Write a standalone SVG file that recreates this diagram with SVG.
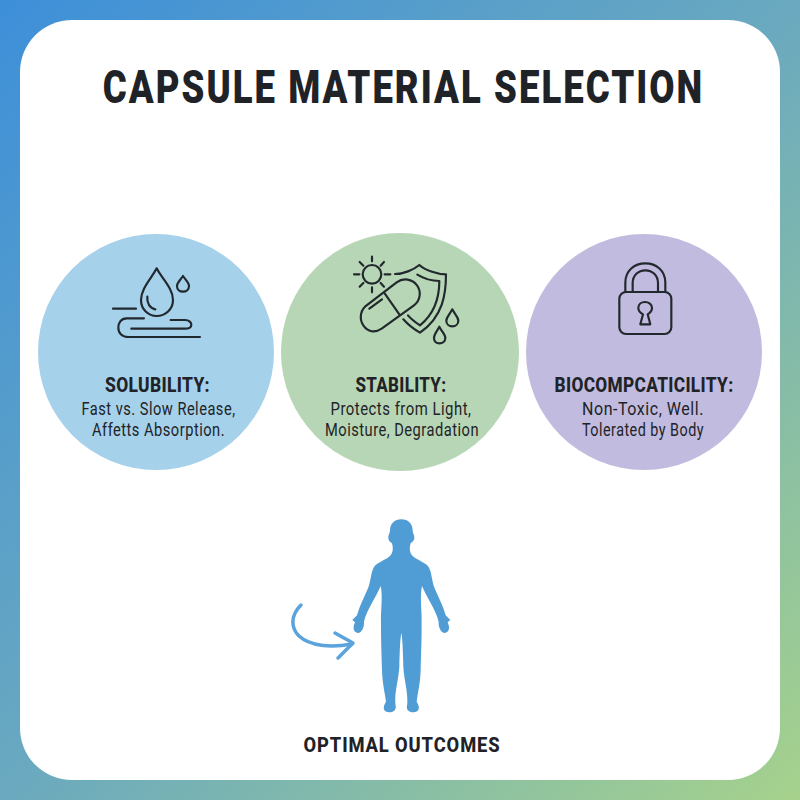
<svg xmlns="http://www.w3.org/2000/svg" width="800" height="800" viewBox="0 0 800 800">
<style>
text{font-family:Roboto,"Liberation Sans",sans-serif;text-anchor:middle;fill:#1f2327}
.h{font-weight:800;font-size:21px;letter-spacing:.4px}
.s{font-weight:400;font-size:18px;letter-spacing:.6px}
.i{fill:none;stroke:#22292e;stroke-width:6.5;stroke-linecap:round;stroke-linejoin:round}
</style>
<defs><linearGradient id="bg" x1="0" y1="0" x2="1" y2="1"><stop offset="0" stop-color="#3d8fd9"/><stop offset=".5" stop-color="#6aa9bf"/><stop offset="1" stop-color="#a6d28c"/></linearGradient></defs>
<rect width="800" height="800" fill="url(#bg)"/>
<rect x="20" y="20" width="760" height="760" rx="52" fill="#fff"/>
<text id="title" transform="translate(403.5 102.5) scale(.778 1)" font-size="47" font-weight="900" letter-spacing="2.6">CAPSULE MATERIAL SELECTION</text>
<g id="solubility">
<circle cx="156" cy="352" r="118" fill="#a5d1ea"/>
<g class="i" transform="translate(90 250) scale(.3333)">
<path d="M200 55C185 85 153 115 153 150C153 178 175 198 200 198C226 198 249 178 249 150C249 115 215 85 200 55Z"/>
<path d="M172 140C170 160 180 175 196 178"/>
<path d="M279 78C270 92 261 98 261 108C261 118 269 125 279 125C289 125 297 118 297 108C297 98 287 90 279 78Z"/>
<path d="M69 176H138"/>
<path d="M162 205H110C92 205 85 220 85 233C85 250 97 261 115 261H330"/>
<path d="M242 210H285C298 210 304 218 304 224C304 232 296 236 285 236H124"/>
</g>
<text class="h" x="157.5" y="392" textLength="105" lengthAdjust="spacingAndGlyphs">SOLUBILITY:</text>
<text class="s" x="158.5" y="415" textLength="154" lengthAdjust="spacingAndGlyphs">Fast vs. Slow Release,</text>
<text class="s" x="158.5" y="436" textLength="133" lengthAdjust="spacingAndGlyphs">Affetts Absorption.</text>
</g>
<g id="stability">
<circle cx="400" cy="352" r="119" fill="#b7d6b5"/>
<g class="i" transform="translate(340 250) scale(.3333)">
<circle cx="96" cy="73" r="28"/>
<path d="M96 20V34M96 112V127M42 73H58M134 73H151M59 36L70 47M132 36L122 47M59 110L70 99M132 110L122 99"/>
<path d="M165 72C190 72 220 60 238 45C255 60 290 73 318 73C318 130 310 200 240 248C222 238 205 225 190 208"/>
<path d="M232 74C250 85 275 93 298 93C298 140 285 190 240 226C225 216 213 207 204 196"/>
<path d="M75 170L170 97C190 82 217 87 231 106C245 125 241 152 222 166L125 236C104 250 83 245 71 228C58 210 60 185 75 170Z"/>
<path d="M134 130L178 193"/>
<path d="M88 176L126 148"/>
<path d="M337 178C328 195 319 202 319 212C319 222 327 229 337 229C347 229 355 222 355 212C355 202 345 194 337 178Z"/>
<path d="M298 230C289 247 282 254 282 264C282 274 289 280 298 280C308 280 316 274 316 264C316 254 306 246 298 230Z"/>
</g>
<text class="h" x="401" y="392" textLength="91" lengthAdjust="spacingAndGlyphs">STABILITY:</text>
<text class="s" x="401" y="415" textLength="141" lengthAdjust="spacingAndGlyphs">Protects from Light,</text>
<text class="s" x="402" y="436" textLength="154" lengthAdjust="spacingAndGlyphs">Moisture, Degradation</text>
</g>
<g id="biocompatibility">
<circle cx="644" cy="352" r="118" fill="#c0bbdf"/>
<g class="i" transform="translate(600 250) scale(.3333)">
<rect x="58" y="126" width="156" height="126" rx="20"/>
<path d="M76 126V98C76 62 103 40 136 40C169 40 196 62 196 98V126"/>
<path d="M98 126V100C98 76 115 61 136 61C157 61 174 76 174 100V126"/>
<path d="M121 223L129 193C120 188 115 180 115 174C115 163 124 156 135 156C146 156 156 163 156 174C156 181 151 188 143 193L151 223Z"/>
</g>
<text class="h" x="644" y="392" textLength="179" lengthAdjust="spacingAndGlyphs">BIOCOMPCATICILITY:</text>
<text class="s" x="643" y="415" textLength="122" lengthAdjust="spacingAndGlyphs">Non-Toxic, Well.</text>
<text class="s" x="643" y="436" textLength="122" lengthAdjust="spacingAndGlyphs">Tolerated by Body</text>
</g>
<g id="outcomes">
<g transform="translate(280 510) scale(.3333)">
<path fill="#509dd6" d="M364 28C385 28 398 42 398 62C398 70 404 74 403 84C402 94 396 96 392 100C387 118 390 130 398 138C412 150 432 156 444 168C456 185 454 210 464 235C477 265 490 290 497 316L511 330L503 337C509 350 510 366 495 369C482 369 475 350 476 335C468 300 440 262 426 228C419 260 426 300 425 340C425 400 423 440 422 480C421 520 413 550 410 575C420 590 420 606 400 607C385 607 377 598 382 582C384 540 372 510 370 470C369 430 368 390 364 368C360 390 359 430 358 470C356 510 344 540 346 582C351 598 343 607 328 607C308 606 308 590 318 575C315 550 307 520 306 480C305 440 303 400 303 340C302 300 309 260 302 228C288 262 260 300 252 335C253 350 246 369 233 369C218 366 219 350 225 337L217 330L231 316C238 290 251 265 264 235C274 210 272 185 284 168C296 156 316 150 330 138C338 130 341 118 336 100C332 96 326 94 325 84C324 74 330 70 330 62C330 42 343 28 364 28Z"/>
</g>
<g fill="none" stroke="#5ba3dc" stroke-width="3.5" stroke-linecap="round" stroke-linejoin="round">
<path d="M301 605C290 616 291 628 299 636C310 646 330 648 352 644"/>
<path d="M335 633L353 643L338 658"/>
</g>
<text x="402" y="752" font-size="21" font-weight="800" letter-spacing="1" textLength="197" lengthAdjust="spacingAndGlyphs">OPTIMAL OUTCOMES</text>
</g>
</svg>
